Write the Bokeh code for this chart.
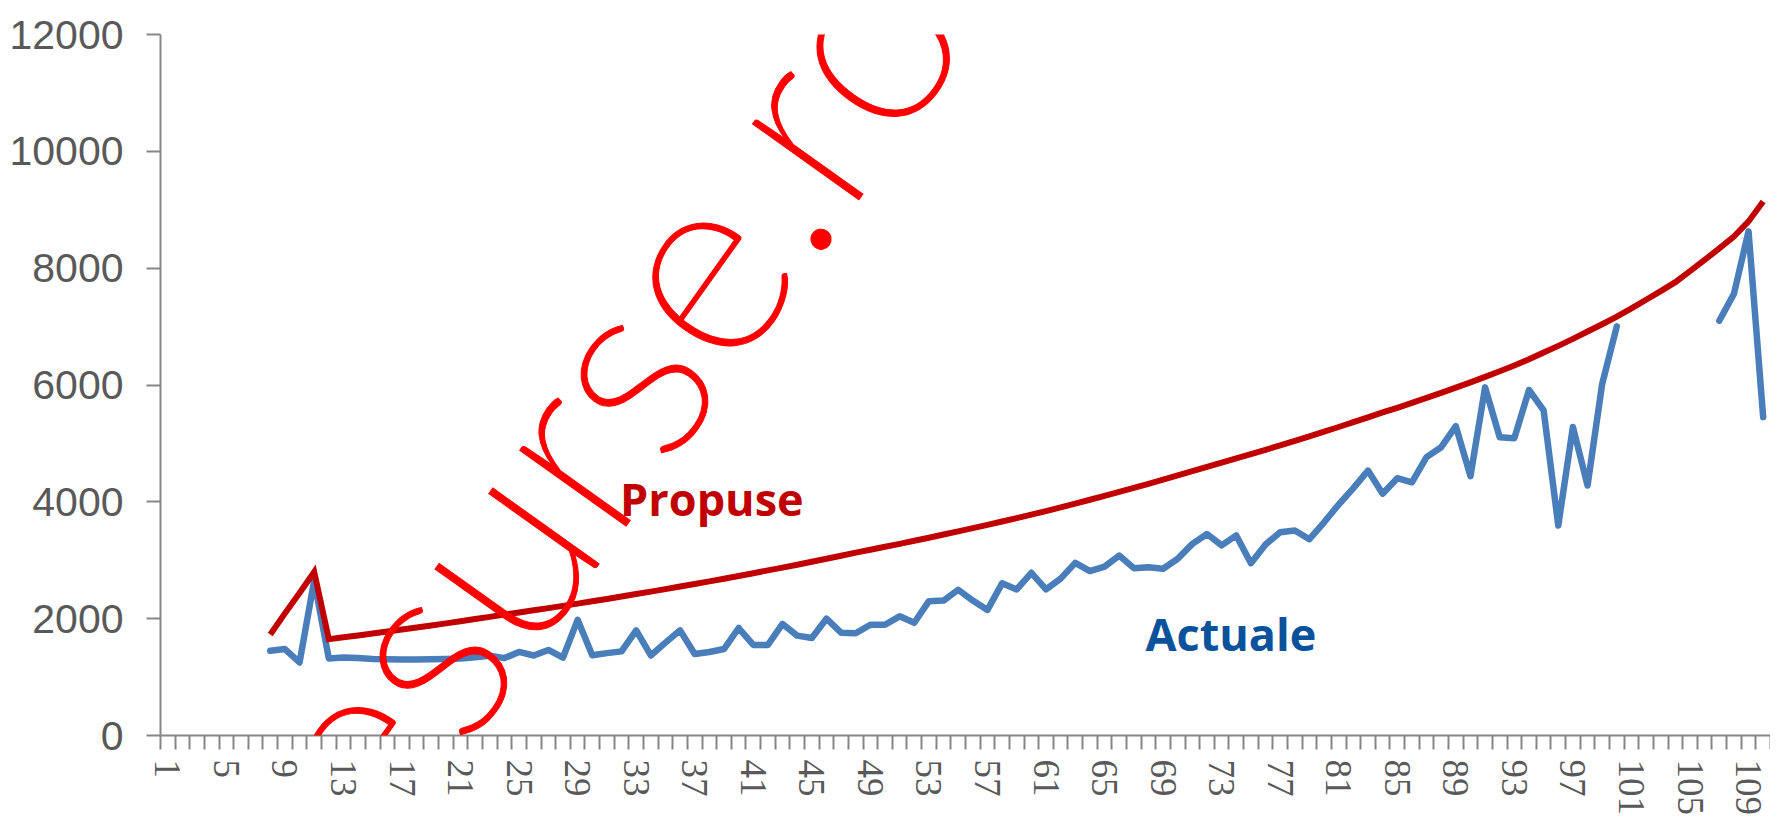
import math
from bokeh.plotting import figure
from bokeh.models import FixedTicker, Label
from bokeh.embed import file_html
from bokeh.resources import INLINE

# ---------------- data ----------------
categories = list(range(1, 111))
x_tick_values = list(range(1, 111, 4))
x_tick_labels = [str(c) for c in x_tick_values]
y_tick_values = [0, 2000, 4000, 6000, 8000, 10000, 12000]

actuale_known = {
    8: 1450, 9: 1480, 10: 1250, 11: 2650, 12: 1320, 13: 1335, 14: 1325, 15: 1310,
    16: 1305, 17: 1300, 18: 1300, 19: 1305, 20: 1310, 21: 1320, 22: 1340, 23: 1365,
    24: 1325, 25: 1430, 26: 1370, 27: 1465, 28: 1335, 29: 1980, 30: 1375, 31: 1410,
    32: 1440, 33: 1800, 34: 1370, 35: 1590, 36: 1800, 37: 1395, 38: 1430, 39: 1480,
    40: 1840, 41: 1550, 42: 1550, 43: 1910, 44: 1710, 45: 1670, 46: 2000, 47: 1760,
    48: 1750, 49: 1895, 50: 1895, 51: 2040, 52: 1930, 53: 2300, 54: 2310, 55: 2495,
    56: 2310, 57: 2150, 58: 2605, 59: 2500, 60: 2785, 61: 2500, 62: 2685, 63: 2955,
    64: 2815, 65: 2890, 66: 3080, 67: 2865, 68: 2880, 69: 2855, 70: 3025, 71: 3280,
    72: 3450, 73: 3255, 74: 3425, 75: 2950, 76: 3270, 77: 3480, 78: 3510, 79: 3360,
    80: 3650, 81: 3955, 82: 4235, 83: 4535, 84: 4140, 85: 4405, 86: 4335, 87: 4765,
    88: 4935, 89: 5295, 90: 4440, 91: 5960, 92: 5105, 93: 5090, 94: 5915, 95: 5565,
    96: 3595, 97: 5280, 98: 4280, 99: 6020, 100: 7005,
    107: 7100, 108: 7560, 109: 8630, 110: 5450,
}

propuse_known = {
    8: 1730, 9: 2090, 10: 2440, 11: 2800, 12: 1650, 13: 1681, 14: 1713, 15: 1746,
    16: 1779, 17: 1813, 18: 1848, 19: 1883, 20: 1919, 21: 1955, 22: 1993, 23: 2031,
    24: 2070, 25: 2106, 26: 2143, 27: 2181, 28: 2219, 29: 2258, 30: 2298, 31: 2338,
    32: 2379, 33: 2421, 34: 2463, 35: 2506, 36: 2550, 37: 2594, 38: 2639, 39: 2684,
    40: 2731, 41: 2778, 42: 2826, 43: 2874, 44: 2924, 45: 2974, 46: 3025, 47: 3077,
    48: 3130, 49: 3180, 50: 3230, 51: 3281, 52: 3333, 53: 3386, 54: 3440, 55: 3494,
    56: 3550, 57: 3606, 58: 3663, 59: 3721, 60: 3780, 61: 3842, 62: 3906, 63: 3970,
    64: 4036, 65: 4102, 66: 4170, 67: 4239, 68: 4309, 69: 4380, 70: 4452, 71: 4525,
    72: 4600, 73: 4671, 74: 4743, 75: 4817, 76: 4891, 77: 4967, 78: 5044, 79: 5122,
    80: 5201, 81: 5281, 82: 5363, 83: 5446, 84: 5530, 85: 5610, 86: 5695, 87: 5780,
    88: 5865, 89: 5955, 90: 6045, 91: 6140, 92: 6235, 93: 6335, 94: 6440, 95: 6555,
    96: 6670, 97: 6790, 98: 6915, 99: 7040, 100: 7170, 101: 7313, 102: 7459, 103: 7608,
    104: 7760, 105: 7948, 106: 8141, 107: 8338, 108: 8540, 109: 8800, 110: 9140,
}

actuale = [actuale_known.get(c, float("nan")) for c in categories]
propuse = [propuse_known.get(c, float("nan")) for c in categories]

# ---------------- figure ----------------
AXIS_GRAY = "#868686"
LABEL_GRAY = "#595959"

p = figure(
    width=1770, height=819,
    x_range=(0.5, 110.5), y_range=(0, 12000),
    output_backend="svg", toolbar_location=None,
    min_border_left=160, min_border_right=0, min_border_top=34, min_border_bottom=84,
)
p.xgrid.visible = False
p.ygrid.visible = False
p.outline_line_color = None
p.background_fill_color = "white"
p.border_fill_color = "white"

# x axis: tick marks between categories, labels every 4th category
xax = p.xaxis[0]
xax.ticker = FixedTicker(ticks=x_tick_values,
                         minor_ticks=[c - 0.5 for c in categories] + [categories[-1] + 0.5])
xax.major_label_overrides = {v: l for v, l in zip(x_tick_values, x_tick_labels)}
xax.major_tick_out = 0
xax.major_tick_in = 0
xax.minor_tick_out = 14
xax.minor_tick_in = 0
xax.minor_tick_line_color = AXIS_GRAY
xax.minor_tick_line_width = 2
xax.axis_line_color = AXIS_GRAY
xax.axis_line_width = 2
xax.major_label_orientation = "vertical"
xax.major_label_standoff = 10
xax.major_label_text_font = "Liberation Sans Narrow"
xax.major_label_text_font_size = "37px"
xax.major_label_text_color = LABEL_GRAY

yax = p.yaxis[0]
yax.ticker = FixedTicker(ticks=y_tick_values)
yax.major_tick_out = 14
yax.major_tick_in = 0
yax.minor_tick_out = 0
yax.minor_tick_in = 0
yax.major_tick_line_color = AXIS_GRAY
yax.major_tick_line_width = 2
yax.axis_line_color = AXIS_GRAY
yax.axis_line_width = 2
yax.major_label_standoff = 23
yax.major_label_text_font = "Liberation Sans"
yax.major_label_text_font_size = "41px"
yax.major_label_text_color = LABEL_GRAY

# series
p.line(categories, actuale, line_color="#4A7EBB", line_width=6.5, line_join="round", line_cap="round")
p.line(categories, propuse, line_color="#C00000", line_width=6, line_join="miter")

# in-chart series labels
p.add_layout(Label(x=31.9, y=4060, text="Propuse", text_font="Open Sans", text_font_style="bold",
                   text_font_size="45px", text_color="#C00000", text_baseline="alphabetic"))
p.add_layout(Label(x=67.8, y=1740, text="Actuale", text_font="Open Sans", text_font_style="bold",
                   text_font_size="45px", text_color="#0B529C", text_baseline="alphabetic"))

# watermark
p.add_layout(Label(x=413, y=313, x_units="screen", y_units="screen", level="overlay",
                   text="resurse.ro", angle=54.5 * math.pi / 180,
                   text_align="center", text_baseline="alphabetic",
                   text_font="Lato Thin", text_font_size="265px", text_color="#FF0000",
                   text_outline_color="#FF0000"))

open("out.html", "w").write(file_html(p, INLINE))
